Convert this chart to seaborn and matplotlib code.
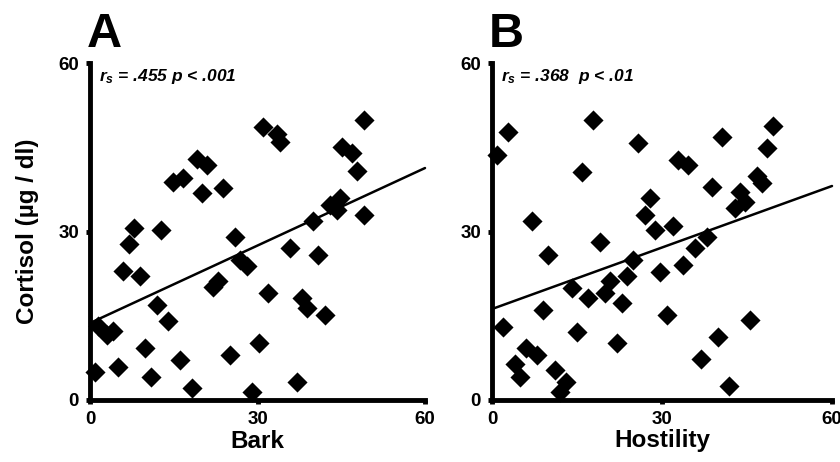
import numpy as np
import pandas as pd
import matplotlib
matplotlib.use("Agg")
import matplotlib.pyplot as plt
import seaborn as sns

# ---- data ----
bark = [31.0, 33.5, 34.0, 49.0, 45.1, 46.9, 47.8, 19.1, 20.9, 14.9, 16.7, 20.0, 23.9,
        40.0, 43.0, 44.8, 44.2, 49.0, 7.8, 12.8, 26.0, 6.9, 5.9, 9.0, 26.9, 28.1, 35.8,
        40.9, 22.1, 23.0, 12.0, 14.0, 31.9, 37.9, 38.8, 42.1, 1.5, 3.0, 4.1, 9.9, 0.9,
        5.1, 11.0, 16.1, 25.1, 30.2, 18.2, 29.0, 37.0]
cortisol_a = [48.6, 47.3, 45.9, 49.8, 45.0, 43.9, 40.7, 42.9, 41.8, 38.8, 39.6, 36.9, 37.8,
              31.8, 34.8, 36.0, 33.9, 33.0, 30.7, 30.2, 29.0, 27.7, 22.9, 22.0, 25.0, 23.8, 27.1,
              25.9, 20.2, 21.1, 17.0, 14.0, 19.1, 18.2, 16.4, 15.2, 13.1, 11.6, 12.2, 9.3, 5.0,
              5.9, 4.1, 7.1, 8.0, 10.2, 2.1, 1.4, 3.2]

hostility = [0.9, 2.8, 17.8, 25.8, 15.9, 40.6, 49.6, 48.5, 32.8, 34.6, 38.8, 46.8, 47.6,
             43.8, 44.6, 42.9, 27.9, 27.0, 28.8, 31.9, 7.1, 19.1, 37.9, 9.9, 35.8, 33.7,
             24.9, 29.6, 23.8, 20.8, 19.9, 16.9, 14.1, 22.9, 9.0, 30.9, 1.9, 15.0, 22.1,
             45.5, 39.9, 36.9, 41.8, 6.0, 7.9, 4.1, 4.9, 11.1, 13.1, 12.0]
cortisol_b = [43.7, 47.8, 49.9, 45.8, 40.6, 46.9, 48.8, 44.9, 42.8, 41.9, 38.0, 39.8, 38.7,
              37.1, 35.3, 34.2, 36.0, 33.0, 30.3, 30.9, 31.8, 28.2, 29.1, 25.8, 27.1, 24.1,
              25.0, 22.8, 22.0, 21.1, 19.1, 18.2, 20.0, 17.3, 16.0, 15.2, 13.0, 12.1, 10.2,
              14.3, 11.2, 7.3, 2.5, 9.3, 8.0, 6.4, 4.1, 5.3, 3.2, 1.4]

fit_x = [0, 60]
fit_a = [13.7, 41.3]
fit_b = [16.2, 38.1]

ticks = [0, 30, 60]
tick_labels = ["0", "30", "60"]
panel_letters = ["A", "B"]
xlabels = ["Bark", "Hostility"]
ylabel = "Cortisol (µg / dl)"
annotations = [("$r_s$ = .455 p < .001"), ("$r_s$ = .368  p < .01")]

# ---- style ----
sns.set_style("ticks")
plt.rcParams["font.family"] = ["Liberation Sans", "DejaVu Sans"]
plt.rcParams["mathtext.fontset"] = "custom"
plt.rcParams["mathtext.it"] = "Liberation Sans:italic:bold"
plt.rcParams["mathtext.rm"] = "Liberation Sans:italic:bold"
for key in ["text.color", "axes.labelcolor", "xtick.color", "ytick.color", "axes.edgecolor"]:
    plt.rcParams[key] = "black"

fig = plt.figure(figsize=(8.4, 4.62), dpi=100)
axA = fig.add_axes([90 / 840, 62 / 462, 335 / 840, 337 / 462])
axB = fig.add_axes([492 / 840, 62 / 462, 340 / 840, 337 / 462])

dfs = [pd.DataFrame({"x": bark, "y": cortisol_a}),
       pd.DataFrame({"x": hostility, "y": cortisol_b})]
fits = [pd.DataFrame({"x": fit_x, "y": fit_a}), pd.DataFrame({"x": fit_x, "y": fit_b})]

for i, ax in enumerate([axA, axB]):
    sns.scatterplot(data=dfs[i], x="x", y="y", ax=ax, marker="D", s=105,
                    color="black", edgecolor="black", linewidth=0, clip_on=False, zorder=3)
    sns.lineplot(data=fits[i], x="x", y="y", ax=ax, color="black", linewidth=1.8,
                 clip_on=False, zorder=2)
    ax.set_xlim(0, 60)
    ax.set_ylim(0, 60)
    ax.set_xticks(ticks)
    ax.set_yticks(ticks)
    ax.set_xticklabels(tick_labels, fontweight="bold", fontsize=13.5)
    ax.set_yticklabels(tick_labels, fontweight="bold", fontsize=13.5)
    ax.tick_params(axis="both", direction="out", length=3, width=3.5, pad=5,
                   colors="black")
    for side in ["top", "right"]:
        ax.spines[side].set_visible(False)
    for side in ["left", "bottom"]:
        ax.spines[side].set_linewidth(3.5)
        ax.spines[side].set_color("black")
        ax.spines[side].set_capstyle("projecting")
    ax.set_xlabel(xlabels[i], fontsize=17.5, fontweight="bold", labelpad=1, color="black")
    ax.set_ylabel("")
    ax.text(-0.5, 61.0, panel_letters[i], fontsize=35, fontweight="heavy",
            ha="left", va="bottom", color="black", transform=ax.transData)
    ax.text(1.6, 56.8, annotations[i], fontsize=12.5, fontweight="bold", fontstyle="italic",
            ha="left", va="baseline", color="black")

axA.set_ylabel(ylabel, fontsize=17.5, fontweight="bold", labelpad=14, color="black")

fig.savefig("out.png", dpi=100)
